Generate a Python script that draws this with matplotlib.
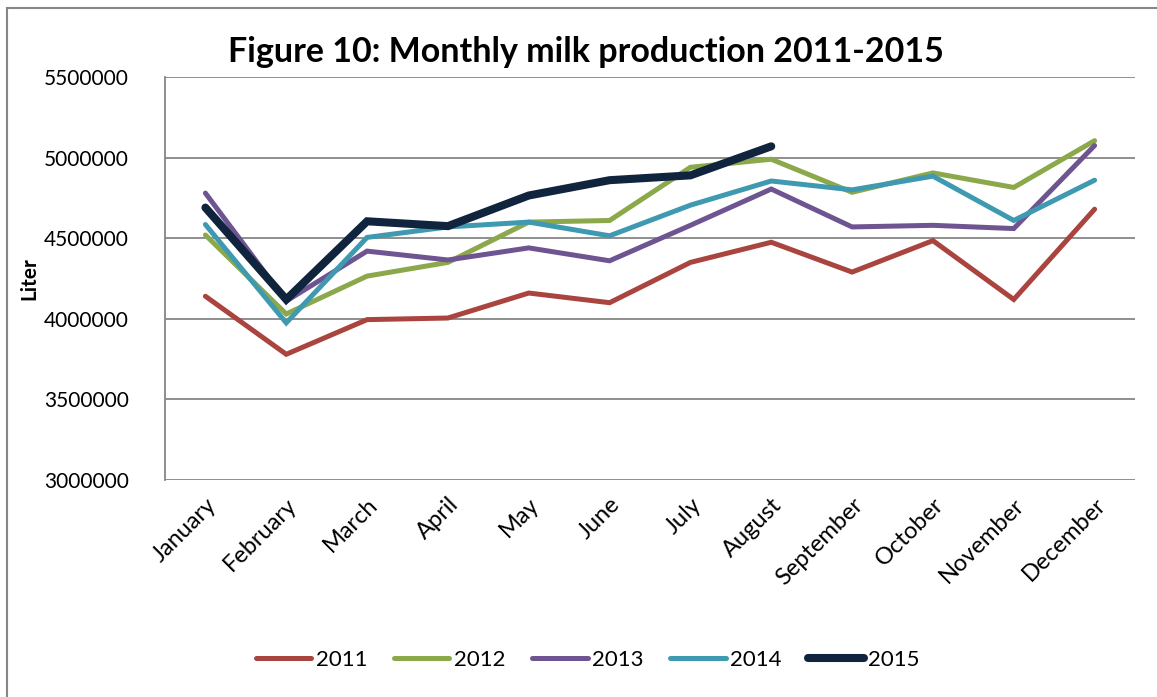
import matplotlib
matplotlib.use("Agg")
import matplotlib.pyplot as plt
from matplotlib.patches import Rectangle

months = ["January", "February", "March", "April", "May", "June", "July",
          "August", "September", "October", "November", "December"]

y2011 = [4140000, 3780000, 3995000, 4005000, 4160000, 4100000, 4350000,
         4475000, 4290000, 4485000, 4120000, 4680000]
y2012 = [4520000, 4030000, 4265000, 4350000, 4600000, 4610000, 4940000,
         4990000, 4785000, 4905000, 4815000, 5105000]
y2013 = [4780000, 4110000, 4420000, 4365000, 4440000, 4360000, 4580000,
         4805000, 4570000, 4580000, 4560000, 5075000]
y2014 = [4585000, 3975000, 4505000, 4570000, 4600000, 4515000, 4705000,
         4855000, 4800000, 4885000, 4610000, 4860000]
y2015 = [4690000, 4120000, 4605000, 4575000, 4765000, 4860000, 4890000,
         5070000]

series = [("2011", y2011, "#A9443F", 3.6),
          ("2012", y2012, "#8BA84A", 3.6),
          ("2013", y2013, "#6E5490", 3.6),
          ("2014", y2014, "#3F9AB1", 3.6),
          ("2015", y2015, "#10243E", 5.8)]

plt.rcParams["font.family"] = ["Lato", "DejaVu Sans"]

fig = plt.figure(figsize=(11.57, 6.97), dpi=100)
ax = fig.add_axes([0.1426, 0.3113, 0.8384, 0.5782])

# outer chart border
fig.patches.append(Rectangle((7 / 1157, -0.05), 1.1, 1 - 8 / 697 + 0.05,
                             transform=fig.transFigure, fill=False,
                             edgecolor="#868686", linewidth=1.5))

x = list(range(len(months)))
for label, vals, color, lw in series:
    ax.plot(x[:len(vals)], vals, color=color, linewidth=lw, label=label,
            solid_capstyle="round", solid_joinstyle="miter")

ax.set_xlim(-0.5, 11.5)
ax.set_ylim(3000000, 5500000)
ax.set_yticks(range(3000000, 5500001, 500000))
ax.set_yticklabels([str(v) for v in range(3000000, 5500001, 500000)])
ax.set_xticks(x)
ax.set_xticklabels(months, rotation=45, ha="right", rotation_mode="anchor",
                   fontsize=17)
ax.tick_params(axis="y", length=0, labelsize=15, colors="black", pad=26)
ax.tick_params(axis="x", length=0, colors="black", pad=10)
ax.grid(True, axis="y", color="#868686", linewidth=1.3)
ax.set_axisbelow(True)
for s in ["top", "right", "bottom"]:
    ax.spines[s].set_visible(False)
ax.spines["left"].set_color("#868686")
ax.spines["left"].set_linewidth(1.3)

ax.set_ylabel("Liter", fontsize=15, fontweight="bold")
ax.yaxis.set_label_coords(-0.13, 0.5)
fig.text(0.506, 0.925, "Figure 10: Monthly milk production 2011-2015",
         ha="center", va="center", fontsize=24.5, fontweight="bold")

fig.legend(loc="center", bbox_to_anchor=(0.508, 0.053), ncol=5, frameon=False,
           fontsize=16, handlelength=2.5, handletextpad=0.2,
           columnspacing=1.2)

fig.savefig("out.png", dpi=100)
plt.close(fig)
